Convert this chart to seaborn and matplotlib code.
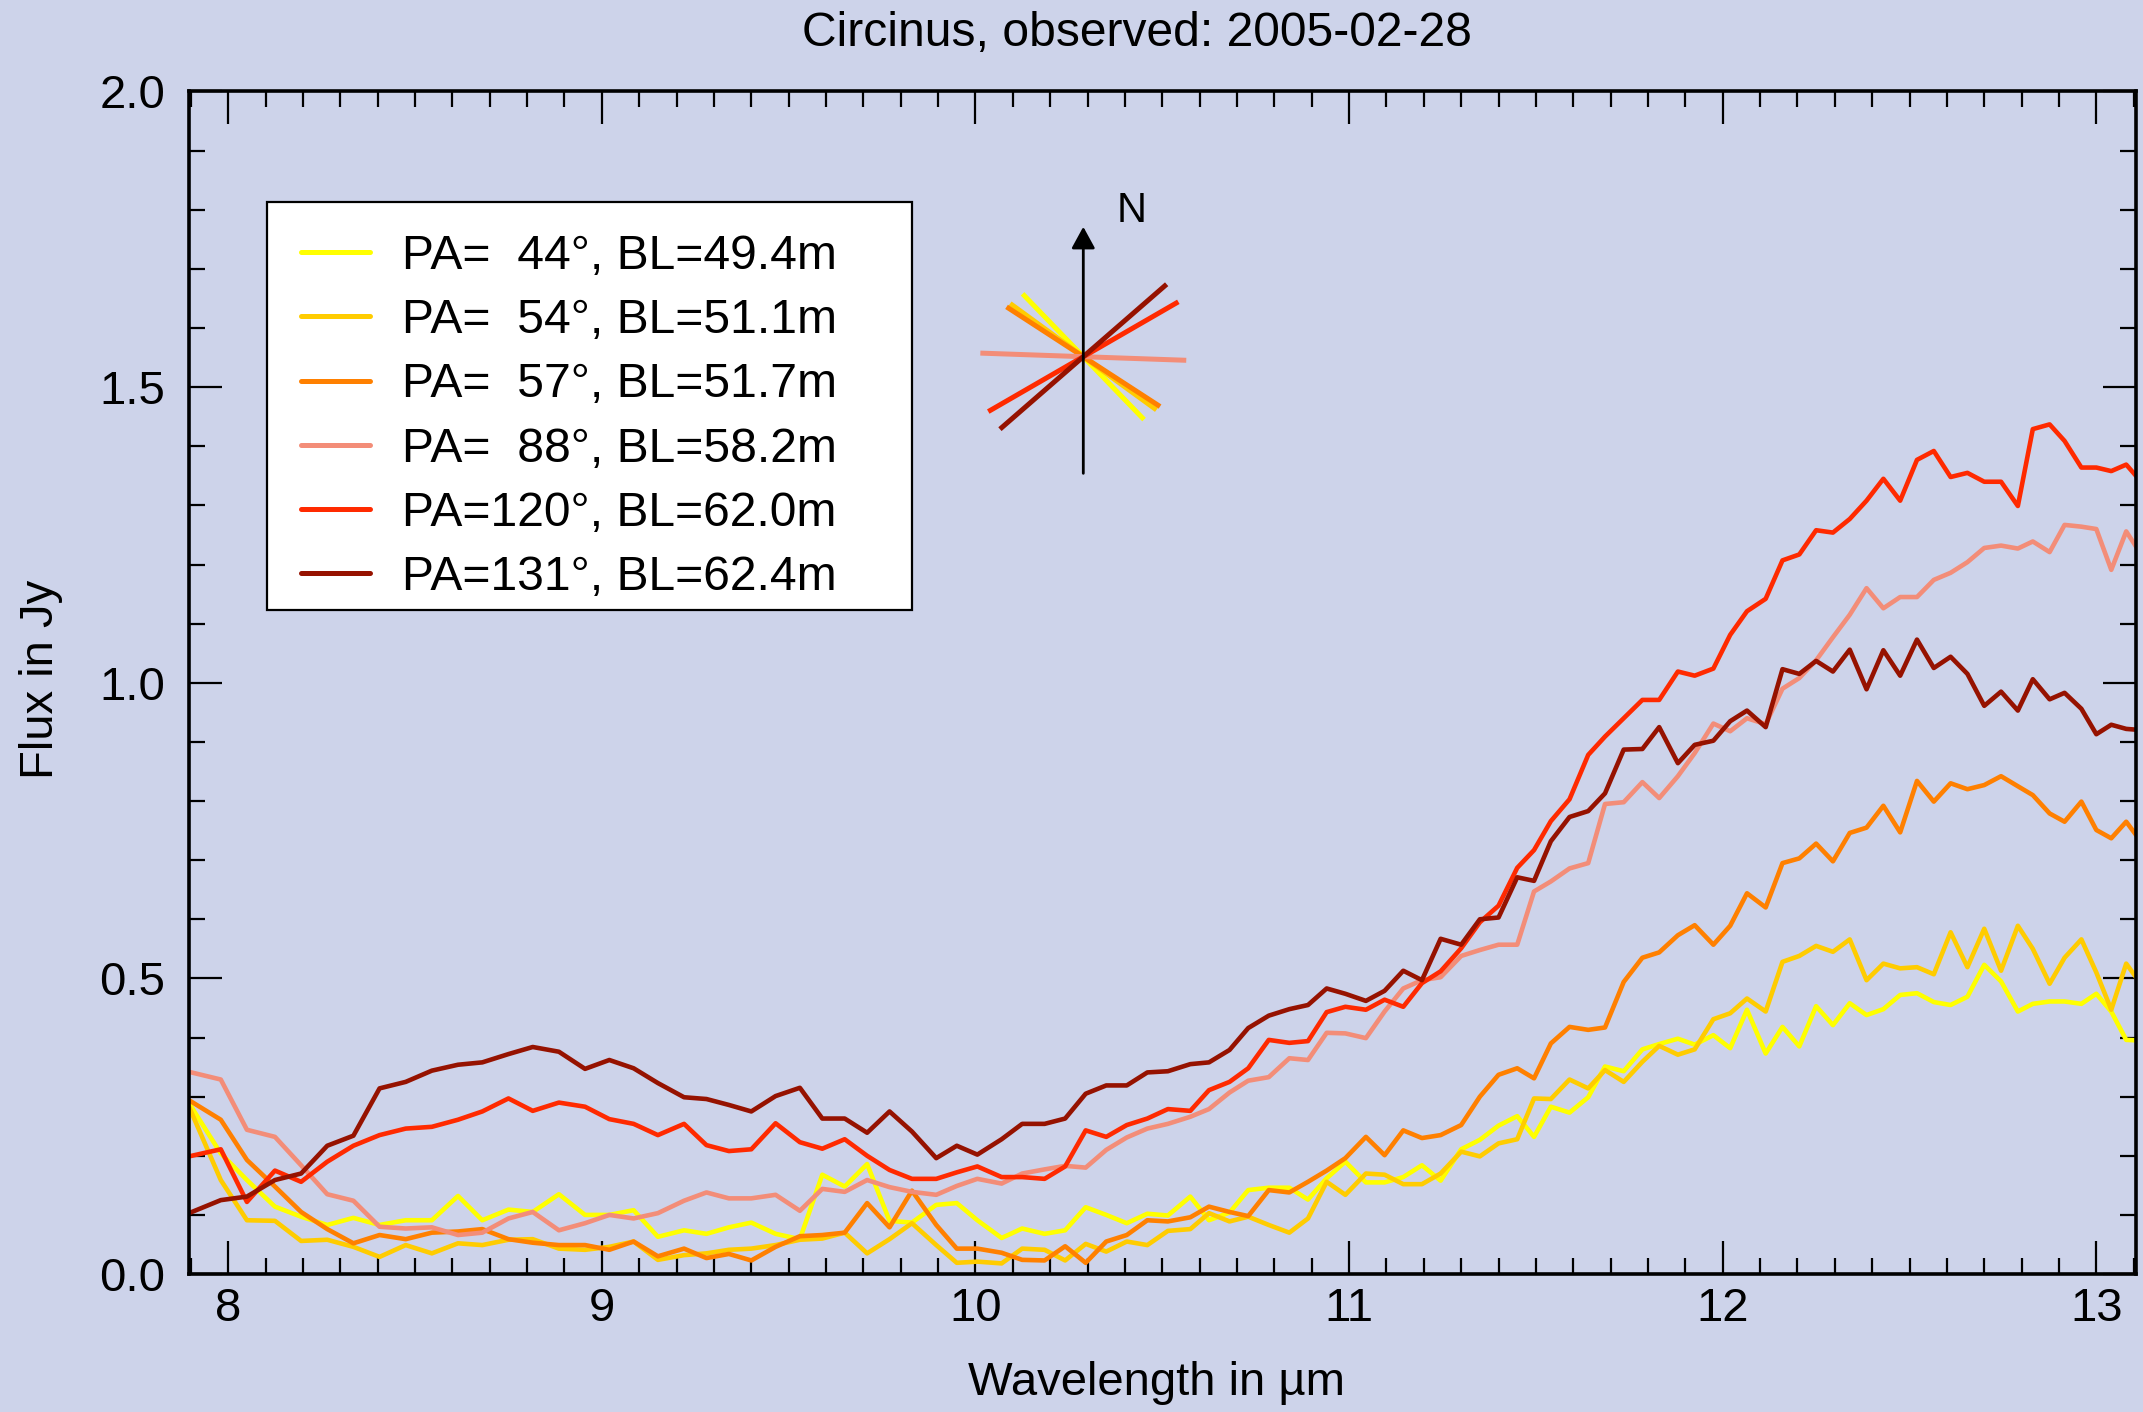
import numpy as np
import pandas as pd
import matplotlib
matplotlib.use("Agg")
import matplotlib.pyplot as plt
import seaborn as sns
from matplotlib.patches import Rectangle
from matplotlib.ticker import MultipleLocator, FixedLocator, FixedFormatter

# ---------------- data ----------------
wavelength = [7.895, 7.98, 8.05, 8.125, 8.195, 8.265, 8.335, 8.405, 8.475, 8.545,
              8.615, 8.68, 8.75, 8.815, 8.885, 8.955, 9.02, 9.085, 9.15, 9.22,
              9.28, 9.34, 9.40, 9.465, 9.53, 9.59, 9.65, 9.71, 9.77, 9.83,
              9.895, 9.95, 10.005, 10.07, 10.125, 10.185, 10.24, 10.295, 10.35, 10.405,
              10.46, 10.515, 10.575, 10.625, 10.68, 10.73, 10.785, 10.84, 10.89, 10.94,
              10.99, 11.045, 11.095, 11.145, 11.195, 11.245, 11.30, 11.35, 11.40, 11.45,
              11.495, 11.54, 11.59, 11.64, 11.685, 11.735, 11.785, 11.83, 11.88, 11.925,
              11.975, 12.02, 12.065, 12.115, 12.16, 12.205, 12.25, 12.295, 12.34, 12.385,
              12.43, 12.475, 12.52, 12.565, 12.61, 12.655, 12.70, 12.745, 12.79, 12.83,
              12.875, 12.915, 12.96, 13.00, 13.04, 13.08, 13.12]

flux_pa44 = [0.289, 0.204, 0.159, 0.114, 0.097, 0.083, 0.095, 0.083, 0.091, 0.091,
             0.132, 0.091, 0.109, 0.105, 0.135, 0.100, 0.100, 0.108, 0.063, 0.074,
             0.068, 0.079, 0.087, 0.068, 0.059, 0.168, 0.148, 0.186, 0.090, 0.087,
             0.117, 0.120, 0.091, 0.061, 0.077, 0.068, 0.074, 0.113, 0.100, 0.086,
             0.102, 0.099, 0.131, 0.091, 0.104, 0.142, 0.146, 0.146, 0.126, 0.162,
             0.190, 0.155, 0.155, 0.164, 0.184, 0.158, 0.211, 0.227, 0.251, 0.267,
             0.232, 0.283, 0.273, 0.299, 0.351, 0.343, 0.380, 0.389, 0.398, 0.388,
             0.404, 0.382, 0.447, 0.373, 0.418, 0.385, 0.453, 0.421, 0.458, 0.438,
             0.448, 0.472, 0.475, 0.460, 0.455, 0.469, 0.523, 0.495, 0.444, 0.457,
             0.461, 0.461, 0.457, 0.474, 0.444, 0.396, 0.395]

flux_pa54 = [0.283, 0.159, 0.091, 0.090, 0.056, 0.058, 0.046, 0.029, 0.049, 0.035,
             0.052, 0.049, 0.058, 0.059, 0.043, 0.041, 0.046, 0.055, 0.024, 0.032,
             0.035, 0.041, 0.043, 0.049, 0.058, 0.060, 0.070, 0.035, 0.059, 0.086,
             0.049, 0.019, 0.021, 0.018, 0.043, 0.041, 0.023, 0.051, 0.038, 0.055,
             0.049, 0.073, 0.076, 0.103, 0.089, 0.097, 0.083, 0.070, 0.094, 0.156,
             0.134, 0.170, 0.168, 0.152, 0.152, 0.170, 0.207, 0.199, 0.221, 0.228,
             0.297, 0.296, 0.329, 0.314, 0.345, 0.325, 0.359, 0.386, 0.371, 0.380,
             0.431, 0.441, 0.466, 0.444, 0.528, 0.538, 0.555, 0.545, 0.566, 0.497,
             0.525, 0.517, 0.519, 0.507, 0.578, 0.519, 0.584, 0.513, 0.589, 0.550,
             0.491, 0.535, 0.566, 0.510, 0.447, 0.525, 0.490]

flux_pa57 = [0.294, 0.261, 0.193, 0.148, 0.105, 0.076, 0.052, 0.066, 0.059, 0.070,
             0.072, 0.076, 0.059, 0.053, 0.049, 0.049, 0.041, 0.055, 0.030, 0.043,
             0.027, 0.034, 0.023, 0.046, 0.064, 0.066, 0.070, 0.120, 0.079, 0.141,
             0.083, 0.043, 0.043, 0.036, 0.024, 0.023, 0.047, 0.019, 0.055, 0.066,
             0.091, 0.089, 0.096, 0.114, 0.105, 0.098, 0.142, 0.138, 0.156, 0.175,
             0.196, 0.232, 0.201, 0.243, 0.230, 0.235, 0.252, 0.300, 0.337, 0.348,
             0.331, 0.390, 0.418, 0.413, 0.417, 0.494, 0.535, 0.544, 0.573, 0.590,
             0.557, 0.589, 0.644, 0.620, 0.695, 0.703, 0.728, 0.698, 0.746, 0.755,
             0.792, 0.747, 0.834, 0.799, 0.830, 0.820, 0.827, 0.842, 0.825, 0.810,
             0.779, 0.765, 0.799, 0.751, 0.737, 0.765, 0.731]

flux_pa88 = [0.342, 0.329, 0.244, 0.232, 0.184, 0.135, 0.124, 0.080, 0.077, 0.079,
             0.066, 0.070, 0.094, 0.105, 0.074, 0.086, 0.100, 0.094, 0.103, 0.124,
             0.138, 0.128, 0.128, 0.134, 0.107, 0.144, 0.139, 0.159, 0.147, 0.139,
             0.134, 0.149, 0.161, 0.153, 0.170, 0.177, 0.183, 0.180, 0.210, 0.231,
             0.246, 0.254, 0.266, 0.279, 0.307, 0.327, 0.333, 0.365, 0.362, 0.408,
             0.407, 0.399, 0.444, 0.483, 0.497, 0.502, 0.538, 0.548, 0.557, 0.557,
             0.647, 0.664, 0.686, 0.695, 0.795, 0.798, 0.832, 0.805, 0.842, 0.881,
             0.931, 0.918, 0.940, 0.930, 0.990, 1.008, 1.038, 1.077, 1.115, 1.160,
             1.126, 1.145, 1.145, 1.174, 1.186, 1.204, 1.228, 1.232, 1.227, 1.239,
             1.221, 1.267, 1.264, 1.260, 1.191, 1.256, 1.217]

flux_pa120 = [0.199, 0.211, 0.122, 0.175, 0.156, 0.190, 0.217, 0.235, 0.246, 0.249,
              0.261, 0.275, 0.297, 0.276, 0.290, 0.283, 0.262, 0.254, 0.235, 0.254,
              0.218, 0.208, 0.211, 0.255, 0.223, 0.212, 0.228, 0.200, 0.176, 0.161,
              0.161, 0.172, 0.182, 0.164, 0.164, 0.161, 0.182, 0.243, 0.232, 0.252,
              0.263, 0.279, 0.276, 0.311, 0.325, 0.348, 0.396, 0.391, 0.394, 0.443,
              0.452, 0.447, 0.464, 0.452, 0.492, 0.512, 0.551, 0.595, 0.623, 0.687,
              0.717, 0.766, 0.803, 0.878, 0.909, 0.940, 0.971, 0.971, 1.019, 1.012,
              1.024, 1.081, 1.121, 1.142, 1.207, 1.217, 1.258, 1.254, 1.277, 1.308,
              1.345, 1.308, 1.377, 1.392, 1.348, 1.355, 1.340, 1.340, 1.299, 1.429,
              1.437, 1.409, 1.364, 1.364, 1.358, 1.369, 1.340]

flux_pa131 = [0.103, 0.125, 0.131, 0.159, 0.170, 0.217, 0.234, 0.314, 0.325, 0.344,
              0.354, 0.358, 0.372, 0.384, 0.376, 0.347, 0.362, 0.348, 0.323, 0.299,
              0.296, 0.286, 0.275, 0.301, 0.315, 0.263, 0.263, 0.239, 0.275, 0.241,
              0.196, 0.217, 0.202, 0.228, 0.254, 0.254, 0.263, 0.305, 0.319, 0.319,
              0.341, 0.343, 0.355, 0.358, 0.379, 0.416, 0.437, 0.448, 0.455, 0.483,
              0.474, 0.462, 0.479, 0.513, 0.497, 0.567, 0.557, 0.600, 0.603, 0.671,
              0.665, 0.732, 0.773, 0.783, 0.813, 0.887, 0.888, 0.925, 0.864, 0.895,
              0.902, 0.935, 0.953, 0.925, 1.023, 1.015, 1.037, 1.019, 1.056, 0.989,
              1.055, 1.012, 1.073, 1.025, 1.044, 1.015, 0.961, 0.985, 0.953, 1.006,
              0.972, 0.983, 0.956, 0.913, 0.929, 0.922, 0.920]

labels = ["PA=  44°, BL=49.4m", "PA=  54°, BL=51.1m", "PA=  57°, BL=51.7m",
          "PA=  88°, BL=58.2m", "PA=120°, BL=62.0m", "PA=131°, BL=62.4m"]
pa_deg = [44, 54, 57, 88, 120, 131]
baseline_m = [49.4, 51.1, 51.7, 58.2, 62.0, 62.4]
colors = ["#ffff00", "#ffcc00", "#ff8000", "#f38d78", "#ff2a00", "#961200"]

x_ticks = [8, 9, 10, 11, 12, 13]
x_ticklabels = ["8", "9", "10", "11", "12", "13"]
y_ticks = [0.0, 0.5, 1.0, 1.5, 2.0]
y_ticklabels = ["0.0", "0.5", "1.0", "1.5", "2.0"]

title = "Circinus, observed: 2005-02-28"
xlabel = "Wavelength in µm"
ylabel = "Flux in Jy"

# ---------------- style ----------------
bg = "#cdd3ea"
sns.set_theme(style="ticks")
plt.rcParams["font.family"] = ["Liberation Sans", "DejaVu Sans"]
plt.rcParams["text.color"] = "black"
plt.rcParams["axes.labelcolor"] = "black"
plt.rcParams["xtick.color"] = "black"
plt.rcParams["ytick.color"] = "black"
FS = 34
FS_TXT = 34.6

W, H = 2143.0, 1412.0
fig = plt.figure(figsize=(21.43, 14.12), dpi=100, facecolor=bg)
ax = fig.add_axes([0.0882, 0.0977, 0.9085, 0.8375])
ax.set_facecolor(bg)

series = [flux_pa44, flux_pa54, flux_pa57, flux_pa88, flux_pa120, flux_pa131]
frames = []
for lab, vals in zip(labels, series):
    frames.append(pd.DataFrame({"wavelength": wavelength, "flux": vals, "label": lab}))
df = pd.concat(frames, ignore_index=True)

sns.lineplot(data=df, x="wavelength", y="flux", hue="label", hue_order=labels,
             palette=colors, linewidth=3.3, sort=False, estimator=None, ax=ax)

ax.set_xlim(7.895, 13.106)
ax.set_ylim(0.0, 2.0)
ax.set_xlabel("")
ax.set_ylabel("")

ax.xaxis.set_major_locator(FixedLocator(x_ticks))
ax.xaxis.set_major_formatter(FixedFormatter(x_ticklabels))
ax.xaxis.set_minor_locator(MultipleLocator(0.1))
ax.yaxis.set_major_locator(FixedLocator(y_ticks))
ax.yaxis.set_major_formatter(FixedFormatter(y_ticklabels))
ax.yaxis.set_minor_locator(MultipleLocator(0.1))

ax.tick_params(which="both", direction="in", top=True, right=True,
               labeltop=False, labelright=False, color="black")
ax.tick_params(which="major", length=23.5, width=1.6, labelsize=FS)
ax.tick_params(which="minor", length=11.5, width=1.6)
ax.tick_params(axis="x", which="major", pad=9)
ax.tick_params(axis="y", which="major", pad=17)
for sp in ax.spines.values():
    sp.set_visible(True)
    sp.set_linewidth(2.6)
    sp.set_color("black")

# legend: white box plus legend content
box = Rectangle((266.5 / W, 1 - 609.5 / H), (911.6 - 266.5) / W, (609.5 - 202) / H,
                transform=fig.transFigure, facecolor="white", edgecolor="black",
                linewidth=1.6, zorder=4.5, clip_on=False)
ax.add_patch(box)
handles, labs = ax.get_legend_handles_labels()
leg = ax.legend(handles, labs, loc="upper left",
                bbox_to_anchor=(300.7 / W, 1 - 234 / H),
                bbox_transform=fig.transFigure, borderaxespad=0, borderpad=0,
                fontsize=FS_TXT, frameon=False,
                labelspacing=0.40, handlelength=1.45, handletextpad=0.66)
leg.set_zorder(5)
for ln in leg.get_lines():
    ln.set_linewidth(3.6)

# compass inset
cax = fig.add_axes([0.42151, 0.61990, 0.16799, 0.25496])
lim = 180 / 1.77
cax.set_xlim(-lim, lim)
cax.set_ylim(-lim, lim)
cax.axis("off")
cax.annotate("", xy=(0, 73.4), xytext=(0, -65.9),
             arrowprops=dict(arrowstyle="-|>,head_length=0.33,head_width=0.18",
                             color="black", lw=2.0, mutation_scale=40,
                             shrinkA=0, shrinkB=0))
for pa, bl, c in zip(pa_deg, baseline_m, colors):
    t = np.deg2rad(pa)
    dx, dy = -np.sin(t) * bl, np.cos(t) * bl
    cax.plot([-dx, dx], [-dy, dy], color=c, lw=3.6, solid_capstyle="butt")
cax.text(27.3, 82.5, "N", fontsize=30, ha="center", va="center")

# texts
fig.text(1137 / W, 1 - 33 / H, title, fontsize=FS_TXT, ha="center", va="center")
fig.text(1157 / W, 1 - 1383 / H, xlabel, fontsize=FS, ha="center", va="center")
fig.text(41 / W, 1 - 679 / H, ylabel, fontsize=FS, ha="center", va="center",
         rotation=90)

fig.savefig("out.png", dpi=100, facecolor=bg)
